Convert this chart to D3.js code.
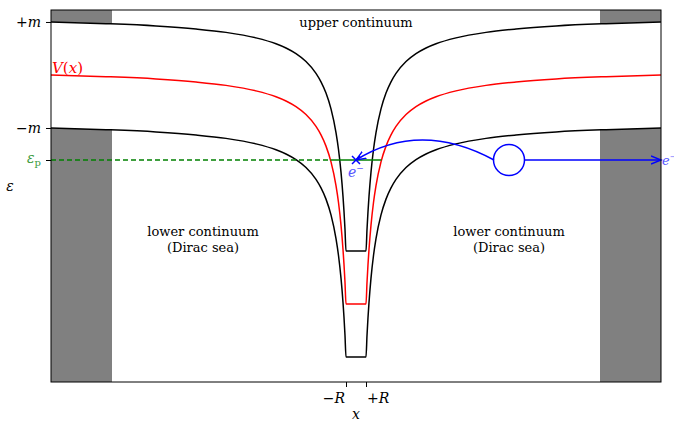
<!DOCTYPE html>
<html><head><meta charset="utf-8">
<script src="https://cdn.jsdelivr.net/npm/d3@7"></script>
<style>
html,body{margin:0;padding:0;background:#fff;}
</style>
</head><body>
<svg id="chart" width="674" height="421" font-family="'DejaVu Serif', 'Liberation Serif', serif"></svg>
<script>
// ---- data (units: x in R, energy in m) ----
const xSamples = [1, 1.1, 1.2, 1.3, 1.5, 1.75, 2, 2.5, 3, 3.5, 4, 5, 6, 7, 8, 10, 13, 16, 20, 25, 30.5];
const vSamples = [-4.321, -3.915, -3.575, -3.291, -2.832, -2.406, -2.087, -1.640, -1.342, -1.130, -0.970, -0.747, -0.598, -0.491, -0.411, -0.300, -0.196, -0.132, -0.075, -0.032, 0.0];
const massM = 1;
const epsP = -1.604;
const xDomain = [-30.5, 30.5];
const yDomain = [-5.792, 1.226];
const grayBands = [[-30.5, -24.4], [24.4, 30.5]];
const yTickValues = [1, -1, epsP];
const xTickValues = [-1, 1];
const circleCenter = [15.3, epsP];
const boundXs = [-2.55, 2.55];

const FONT = "'DejaVu Serif', serif";
const svg = d3.select("#chart");
const L = 51, R = 661, T = 10, B = 382;
const x = d3.scaleLinear().domain(xDomain).range([L, R]);
const y = d3.scaleLinear().domain(yDomain).range([B, T]);

// full potential: mirrored outside, flat inside the well
const pts = [];
for (let i = xSamples.length - 1; i >= 0; i--) pts.push([-xSamples[i], vSamples[i]]);
for (let i = 0; i < xSamples.length; i++) pts.push([xSamples[i], vSamples[i]]);

// gray bands
svg.selectAll("rect.band").data(grayBands).join("rect")
  .attr("x", d => x(d[0])).attr("width", d => x(d[1]) - x(d[0]))
  .attr("y", T).attr("height", B - T).attr("fill", "#808080");

// white gap between continua
const area = d3.area().x(d => x(d[0])).y0(d => y(d[1] - massM)).y1(d => y(d[1] + massM)).curve(d3.curveMonotoneX);
svg.append("path").datum(pts).attr("d", area).attr("fill", "#fff");

const line = off => d3.line().x(d => x(d[0])).y(d => y(d[1] + off)).curve(d3.curveMonotoneX);
svg.append("path").datum(pts).attr("d", line(massM)).attr("fill", "none").attr("stroke", "#000").attr("stroke-width", 1.5);
svg.append("path").datum(pts).attr("d", line(-massM)).attr("fill", "none").attr("stroke", "#000").attr("stroke-width", 1.5);
svg.append("path").datum(pts).attr("d", line(0)).attr("fill", "none").attr("stroke", "#ff0000").attr("stroke-width", 1.5);

// green level
svg.append("line").attr("x1", x(xDomain[0])).attr("x2", x(boundXs[0])).attr("y1", y(epsP)).attr("y2", y(epsP))
  .attr("stroke", "#008000").attr("stroke-width", 1.3).attr("stroke-dasharray", "5,3");
svg.append("line").attr("x1", x(boundXs[0])).attr("x2", x(boundXs[1])).attr("y1", y(epsP)).attr("y2", y(epsP))
  .attr("stroke", "#008000").attr("stroke-width", 1.5);

// arrow marker
const defs = svg.append("defs");
defs.append("marker").attr("id", "arr").attr("markerUnits", "userSpaceOnUse")
  .attr("markerWidth", 14).attr("markerHeight", 12).attr("refX", 10).attr("refY", 5)
  .attr("orient", "auto").attr("viewBox", "0 0 14 10")
  .append("path").attr("d", "M0,1 L10,5 L0,9").attr("fill", "none").attr("stroke", "#0000ff").attr("stroke-width", 1.4);

// circle (hole)
const cx = x(circleCenter[0]), cy = y(circleCenter[1]);
const rr = 15.5;
svg.append("circle").attr("cx", cx).attr("cy", cy).attr("r", rr).attr("fill", "#fff").attr("stroke", "#0000ff").attr("stroke-width", 1.5);
svg.append("line").attr("x1", cx + rr).attr("x2", x(xDomain[1])).attr("y1", cy).attr("y2", cy)
  .attr("stroke", "#0000ff").attr("stroke-width", 1.5).attr("marker-end", "url(#arr)");
// curved arrow to the bound state
const xs = cx - rr + 0.5, xe = x(0);
const p = d3.path();
p.moveTo(xs, cy);
p.quadraticCurveTo(x(6.4), cy - 40, xe, cy);
svg.append("path").attr("d", p.toString()).attr("fill", "none").attr("stroke", "#0000ff").attr("stroke-width", 1.5).attr("marker-end", "url(#arr)");
// x marker
const mx = x(0), my = y(epsP);
svg.append("path").attr("d", `M${mx-4},${my-4}L${mx+4},${my+4}M${mx-4},${my+4}L${mx+4},${my-4}`)
  .attr("stroke", "#0000ff").attr("stroke-width", 1.5);

// spines
svg.append("rect").attr("x", L).attr("y", T).attr("width", R - L).attr("height", B - T)
  .attr("fill", "none").attr("stroke", "#000").attr("stroke-width", 1);

// axes
const yAxis = svg.append("g").attr("transform", `translate(${L},0)`)
  .call(d3.axisLeft(y).tickValues(yTickValues).tickSize(5).tickFormat(""));
yAxis.select(".domain").remove();
const xAxis = svg.append("g").attr("transform", `translate(0,${B})`)
  .call(d3.axisBottom(x).tickValues(xTickValues).tickSize(5).tickFormat(""));
xAxis.select(".domain").remove();

function mathLabel(xp, yp, anchor, parts, color, size) {
  const t = svg.append("text").attr("x", xp).attr("y", yp).attr("text-anchor", anchor)
    .attr("font-family", FONT).attr("fill", color || "#000").attr("font-size", size || 14);
  parts.forEach(pt => {
    const s = t.append("tspan").text(pt[0]);
    if (pt[1] === "i") s.attr("font-style", "italic");
    if (pt[2]) s.attr("font-size", pt[2]);
    if (pt[3]) s.attr("dy", pt[3]);
  });
  return t;
}
// e- labels
mathLabel(mx - 8, my + 17, "start", [["e", "i"], ["−", "", 9, -6]], "#5555ff");
mathLabel(x(xDomain[1]) + 1, my + 5, "start", [["e", "i"], ["−", "", 7, -6]], "#5555ff", 13);

// y tick labels
mathLabel(41, y(1) + 5, "end", [["+", ""], ["m", "i"]]);
mathLabel(41, y(-1) + 5, "end", [["−", ""], ["m", "i"]]);
mathLabel(41, y(epsP) + 3, "end", [["ε", "i"], ["p", "", 10, 3]], "#3a9a3a");
mathLabel(10, 191, "middle", [["ε", "i"]]);
mathLabel(x(xDomain[0]) + 1, 73, "start", [["V", "i"], ["(", ""], ["x", "i"], [")", ""]], "#ff0000", 15);

// x tick labels
mathLabel(x(-1) - 1, 403, "end", [["−", ""], ["R", "i"]]);
mathLabel(x(1) + 1, 403, "start", [["+", ""], ["R", "i"]]);
mathLabel(x(0), 419, "middle", [["x", "i"]]);

// region texts
function txt(xp, yp, s) {
  svg.append("text").attr("x", xp).attr("y", yp).attr("text-anchor", "middle")
    .attr("font-family", FONT).attr("font-size", 13).text(s);
}
txt(x(0), 27, "upper continuum");
txt(x(-15.3), 236, "lower continuum");
txt(x(-15.3), 252, "(Dirac sea)");
txt(x(15.3), 236, "lower continuum");
txt(x(15.3), 252, "(Dirac sea)");
</script>
</body></html>
